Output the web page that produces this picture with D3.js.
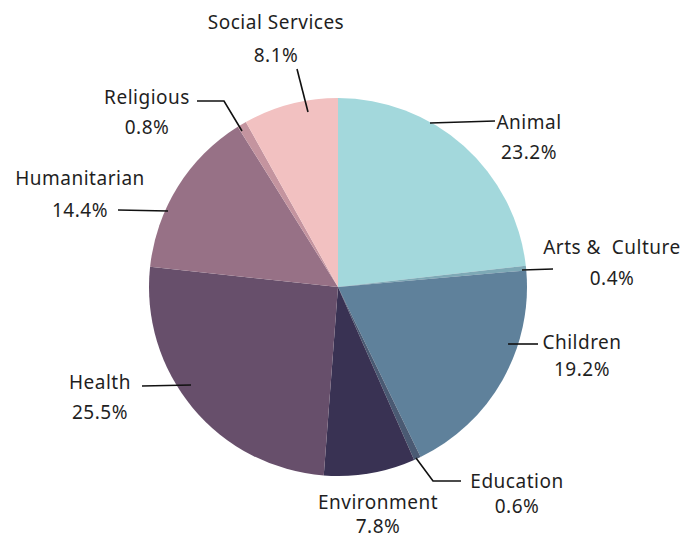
<!DOCTYPE html>
<html>
<head>
<meta charset="utf-8">
<script src="https://cdn.jsdelivr.net/npm/d3@7"></script>
<style>
  html, body { margin: 0; padding: 0; background: #fff; }
  text { font-family: "Noto Sans", "Open Sans", sans-serif; fill: #1f1f1f; white-space: pre; }
</style>
</head>
<body>
<svg id="chart" width="694" height="540"></svg>
<script>
// Share of giving by cause (percent)
const categories = ["Animal", "Arts &  Culture", "Children", "Education", "Environment",
                    "Health", "Humanitarian", "Religious", "Social Services"];
const shares = [23.2, 0.4, 19.2, 0.6, 7.8, 25.5, 14.4, 0.8, 8.1];
const colors = ["#a3d8dc", "#7ea9b6", "#5f819b", "#4a5a73", "#393253",
                "#674f6b", "#977186", "#c4949f", "#f2c1c1"];

// Label placement: text centre (x, y of first line), line gap and leader polyline
const labelLayout = [
  { tx: 529, ty: 122, gap: 30, line: [[430, 123], [495, 121]] },
  { tx: 612, ty: 247, gap: 31, line: [[522, 270], [553, 269]] },
  { tx: 582, ty: 342, gap: 27, line: [[508, 344], [538, 344]] },
  { tx: 517, ty: 481, gap: 25, line: [[416, 458], [433, 481], [461, 481]] },
  { tx: 378, ty: 502, gap: 24, line: [] },
  { tx: 100, ty: 382, gap: 30, line: [[142, 386], [191, 385]] },
  { tx: 80, ty: 178, gap: 32, line: [[118, 210], [168, 211]] },
  { tx: 147, ty: 97, gap: 30, line: [[197, 101], [224, 101], [242, 131]] },
  { tx: 276, ty: 22, gap: 33, line: [[297, 69], [308, 112]] }
];

const data = categories.map((c, i) => ({ name: c, value: shares[i], color: colors[i], layout: labelLayout[i] }));

const svg = d3.select("#chart");
const cx = 338, cy = 287, radius = 189;

const pie = d3.pie().sort(null).value(d => d.value);
const arc = d3.arc().innerRadius(0).outerRadius(radius);

const g = svg.append("g").attr("transform", `translate(${cx},${cy})`);
g.selectAll("path.slice")
  .data(pie(data))
  .join("path")
  .attr("class", "slice")
  .attr("d", arc)
  .attr("fill", d => d.data.color);

// Leader lines
const lineGen = d3.line();
svg.selectAll("path.leader")
  .data(data.filter(d => d.layout.line.length))
  .join("path")
  .attr("class", "leader")
  .attr("d", d => lineGen(d.layout.line))
  .attr("fill", "none")
  .attr("stroke", "#111")
  .attr("stroke-width", 1.6);

// Labels: name and percentage
const fmt = d3.format(".1f");
const labels = svg.selectAll("text.lbl")
  .data(data)
  .join("text")
  .attr("class", "lbl")
  .attr("text-anchor", "middle")
  .attr("font-size", 19)
  .attr("letter-spacing", 0.5);

labels.append("tspan")
  .attr("x", d => d.layout.tx)
  .attr("y", d => d.layout.ty)
  .attr("dy", "0.35em")
  .text(d => d.name);

labels.append("tspan")
  .attr("x", d => d.layout.tx)
  .attr("y", d => d.layout.ty + d.layout.gap)
  .attr("dy", "0.35em")
  .text(d => fmt(d.value) + "%");
</script>
</body>
</html>
